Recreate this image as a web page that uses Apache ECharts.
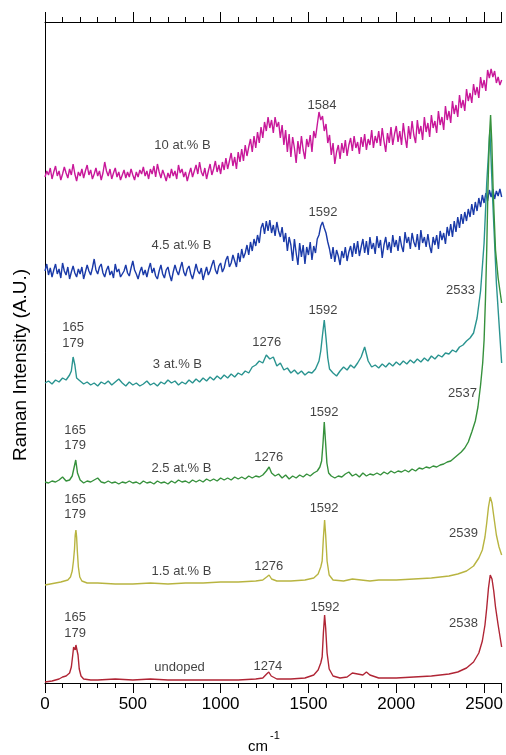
<!DOCTYPE html>
<html><head><meta charset="utf-8">
<script src="https://cdn.jsdelivr.net/npm/echarts@6/dist/echarts.min.js"></script>
<style>html,body{margin:0;padding:0;background:#fff}#c{width:506px;height:755px}</style>
</head><body><div id="c"></div>
<script>
// x tick labels
const xTicks = [0, 500, 1000, 1500, 2000, 2500];
const seriesNames = ['10 at.% B', '4.5 at.% B', '3 at.% B', '2.5 at.% B', '1.5 at.% B', 'undoped'];
const seriesColors = ['#c8189a', '#1a3aa8', '#2a9490', '#36913c', '#b8b440', '#b02535'];

// Spectra: [wavenumber cm-1, stacked intensity (a.u.)]
const b10 = [[0,506],[10,512],[20,508],[30,515],[40,504],[50,511],[60,517],[70,507],[80,512],[90,503],[100,509],[110,516],[120,510],[130,505],[140,514],[150,508],[160,519],[170,509],[180,502],[190,511],[200,507],[210,514],[220,505],[230,512],[240,518],[250,508],[260,513],[270,504],[280,509],[290,515],[300,507],[310,512],[320,503],[330,510],[340,521],[350,512],[360,507],[370,514],[380,504],[390,510],[400,515],[410,506],[420,511],[430,503],[440,508],[450,513],[460,505],[470,511],[480,506],[490,514],[500,508],[510,503],[520,511],[530,506],[540,513],[550,509],[560,516],[570,507],[580,512],[590,504],[600,514],[610,509],[620,517],[630,506],[640,519],[650,511],[660,505],[670,513],[680,508],[690,502],[700,510],[710,505],[720,514],[730,507],[740,512],[750,504],[760,518],[770,510],[780,514],[790,506],[800,511],[810,502],[820,509],[830,515],[840,506],[850,512],[860,518],[870,509],[880,521],[890,511],[900,507],[910,515],[920,504],[930,512],[940,519],[950,508],[960,514],[970,522],[980,511],[990,518],[1000,509],[1010,521],[1020,513],[1030,525],[1040,514],[1050,522],[1060,530],[1070,517],[1080,526],[1090,514],[1100,531],[1110,521],[1120,534],[1130,522],[1140,538],[1150,527],[1160,536],[1170,544],[1180,531],[1190,547],[1200,535],[1210,551],[1220,540],[1230,556],[1240,545],[1250,561],[1260,552],[1270,566],[1280,555],[1290,563],[1300,550],[1310,566],[1320,556],[1330,561],[1340,545],[1350,558],[1360,538],[1370,553],[1380,531],[1390,549],[1400,526],[1410,546],[1420,535],[1430,520],[1440,542],[1450,529],[1460,547],[1470,533],[1480,524],[1490,544],[1500,536],[1510,548],[1520,531],[1530,552],[1540,545],[1550,558],[1560,571],[1570,563],[1580,567],[1590,552],[1600,559],[1610,540],[1620,548],[1630,528],[1640,540],[1650,519],[1660,531],[1670,538],[1680,524],[1690,540],[1700,530],[1710,543],[1720,527],[1730,538],[1740,545],[1750,532],[1760,547],[1770,535],[1780,541],[1790,529],[1800,546],[1810,536],[1820,549],[1830,533],[1840,544],[1850,538],[1860,553],[1870,535],[1880,547],[1890,540],[1900,552],[1910,537],[1920,555],[1930,542],[1940,531],[1950,550],[1960,540],[1970,556],[1980,538],[1990,549],[2000,557],[2010,541],[2020,552],[2030,538],[2040,560],[2050,546],[2060,535],[2070,557],[2080,544],[2090,562],[2100,548],[2110,540],[2120,563],[2130,549],[2140,557],[2150,543],[2160,566],[2170,551],[2180,560],[2190,546],[2200,568],[2210,555],[2220,562],[2230,550],[2240,572],[2250,558],[2260,566],[2270,553],[2280,577],[2290,563],[2300,572],[2310,560],[2320,582],[2330,569],[2340,578],[2350,566],[2360,588],[2370,575],[2380,583],[2390,572],[2400,594],[2410,582],[2420,590],[2430,580],[2440,599],[2450,588],[2460,596],[2470,585],[2480,606],[2490,595],[2500,603],[2510,592],[2520,613],[2530,605],[2540,614],[2550,606],[2560,612],[2570,600],[2580,606],[2590,598],[2600,603]];
const b45 = [[0,412],[10,419],[20,408],[30,415],[40,406],[50,413],[60,419],[70,409],[80,414],[90,405],[100,420],[110,412],[120,408],[130,416],[140,404],[150,411],[160,417],[170,410],[180,406],[190,414],[200,409],[210,416],[220,404],[230,411],[240,418],[250,412],[260,408],[270,415],[280,424],[290,413],[300,409],[310,416],[320,419],[330,410],[340,406],[350,413],[360,417],[370,408],[380,412],[390,405],[400,419],[410,411],[420,414],[430,406],[440,404],[450,412],[460,418],[470,410],[480,407],[490,415],[500,422],[510,413],[520,409],[530,404],[540,411],[550,416],[560,408],[570,413],[580,406],[590,414],[600,420],[610,410],[620,415],[630,407],[640,404],[650,412],[660,418],[670,409],[680,405],[690,413],[700,416],[710,408],[720,402],[730,411],[740,418],[750,412],[760,408],[770,415],[780,421],[790,411],[800,407],[810,414],[820,417],[830,409],[840,404],[850,411],[860,419],[870,412],[880,409],[890,415],[900,403],[910,410],[920,416],[930,408],[940,412],[950,418],[960,423],[970,413],[980,409],[990,417],[1000,420],[1010,411],[1020,415],[1030,423],[1040,427],[1050,416],[1060,420],[1070,428],[1080,422],[1090,416],[1100,430],[1110,421],[1120,434],[1130,425],[1140,430],[1150,438],[1160,428],[1170,441],[1180,432],[1190,444],[1200,437],[1210,448],[1220,440],[1230,455],[1240,460],[1250,449],[1260,462],[1270,452],[1280,463],[1290,450],[1300,458],[1310,447],[1320,461],[1330,452],[1340,446],[1350,456],[1360,441],[1370,450],[1380,432],[1390,446],[1400,438],[1410,422],[1420,444],[1430,430],[1440,418],[1450,440],[1460,426],[1470,438],[1480,419],[1490,436],[1500,428],[1510,441],[1520,423],[1530,437],[1540,430],[1550,444],[1560,448],[1570,457],[1580,461],[1590,455],[1600,450],[1610,441],[1620,434],[1630,424],[1640,436],[1650,421],[1660,433],[1670,427],[1680,418],[1690,432],[1700,425],[1710,436],[1720,422],[1730,431],[1740,437],[1750,426],[1760,440],[1770,429],[1780,442],[1790,427],[1800,436],[1810,444],[1820,430],[1830,442],[1840,428],[1850,446],[1860,434],[1870,440],[1880,429],[1890,447],[1900,435],[1910,443],[1920,425],[1930,438],[1940,446],[1950,433],[1960,441],[1970,430],[1980,448],[1990,436],[2000,443],[2010,432],[2020,447],[2030,437],[2040,431],[2050,451],[2060,440],[2070,446],[2080,434],[2090,450],[2100,441],[2110,436],[2120,449],[2130,433],[2140,453],[2150,440],[2160,446],[2170,436],[2180,449],[2190,437],[2200,430],[2210,446],[2220,438],[2230,448],[2240,434],[2250,452],[2260,443],[2270,450],[2280,439],[2290,456],[2300,447],[2310,459],[2320,446],[2330,462],[2340,451],[2350,466],[2360,455],[2370,469],[2380,459],[2390,471],[2400,462],[2410,474],[2420,466],[2430,479],[2440,468],[2450,481],[2460,472],[2470,485],[2480,476],[2490,488],[2500,480],[2510,490],[2520,482],[2530,493],[2540,486],[2550,494],[2560,484],[2570,492],[2580,487],[2590,494],[2600,486]];
const b3 = [[0,300],[20,302],[40,299],[60,303],[80,301],[100,305],[120,303],[140,308],[150,312],[160,326],[170,318],[180,305],[200,302],[220,299],[240,301],[260,298],[280,300],[300,297],[320,301],[340,299],[360,302],[380,298],[400,301],[420,304],[440,300],[460,297],[480,301],[500,298],[520,300],[540,297],[560,299],[580,302],[600,298],[620,300],[640,297],[660,301],[680,299],[700,303],[720,300],[740,302],[760,298],[780,301],[800,299],[820,303],[840,300],[860,304],[880,301],[900,305],[920,302],[940,306],[960,303],[980,307],[1000,304],[1020,308],[1040,305],[1060,309],[1080,306],[1100,310],[1120,308],[1140,312],[1160,310],[1180,316],[1200,318],[1220,322],[1240,320],[1260,328],[1280,324],[1300,326],[1320,317],[1340,320],[1360,313],[1380,315],[1400,310],[1420,313],[1440,309],[1460,312],[1480,308],[1500,311],[1520,310],[1540,314],[1560,322],[1570,332],[1580,348],[1590,363],[1600,345],[1610,325],[1620,314],[1640,310],[1660,307],[1680,312],[1700,316],[1720,313],[1740,318],[1760,315],[1780,320],[1800,326],[1820,336],[1840,322],[1860,316],[1880,318],[1900,315],[1920,319],[1940,316],[1960,320],[1980,317],[2000,321],[2020,318],[2040,322],[2060,319],[2080,323],[2100,320],[2120,324],[2140,321],[2160,325],[2180,322],[2200,327],[2220,324],[2240,328],[2260,326],[2280,330],[2300,329],[2320,333],[2340,331],[2360,336],[2380,338],[2400,342],[2420,345],[2440,350],[2460,365],[2480,392],[2500,440],[2515,500],[2533,553],[2549,483],[2570,400],[2600,320]];
const b25 = [[0,201],[20,200],[40,202],[60,201],[80,203],[100,206],[120,202],[140,203],[155,207],[165,215],[175,223],[185,210],[200,203],[220,200],[240,202],[260,201],[280,203],[300,205],[320,201],[340,200],[360,202],[380,200],[400,201],[420,199],[440,201],[460,200],[480,202],[500,200],[520,201],[540,199],[560,202],[580,200],[600,201],[620,199],[640,202],[660,200],[680,201],[700,199],[720,202],[740,200],[760,203],[780,201],[800,202],[820,200],[840,203],[860,201],[880,203],[900,201],[920,204],[940,202],[960,204],[980,202],[1000,205],[1020,203],[1040,205],[1060,203],[1080,206],[1100,204],[1120,206],[1140,204],[1160,207],[1180,205],[1200,207],[1220,206],[1240,208],[1260,212],[1276,216],[1290,210],[1310,207],[1330,209],[1350,205],[1370,208],[1390,204],[1410,207],[1430,205],[1450,208],[1470,206],[1490,209],[1510,207],[1530,210],[1550,212],[1565,216],[1575,222],[1583,240],[1590,261],[1597,242],[1605,220],[1615,210],[1630,207],[1650,205],[1670,207],[1690,206],[1710,209],[1730,211],[1750,207],[1770,209],[1790,206],[1810,210],[1830,207],[1850,209],[1870,208],[1890,210],[1910,208],[1930,211],[1950,209],[1970,212],[1990,210],[2010,212],[2030,211],[2050,213],[2070,211],[2090,214],[2110,212],[2130,215],[2150,214],[2170,216],[2190,215],[2210,217],[2230,216],[2250,218],[2270,219],[2290,221],[2310,222],[2330,225],[2350,228],[2370,231],[2390,235],[2410,241],[2430,251],[2450,262],[2465,276],[2480,298],[2492,320],[2500,343],[2508,385],[2515,433],[2522,495],[2530,545],[2537,568],[2544,540],[2552,490],[2565,433],[2580,405],[2600,380]];
const b15 = [[0,98],[30,99],[60,100],[90,101],[110,102],[130,103],[145,106],[155,112],[162,122],[168,134],[172,148],[176,153],[180,146],[184,132],[190,116],[198,106],[210,102],[240,100],[300,100],[400,99],[500,99],[600,100],[700,99],[800,100],[900,100],[1000,101],[1100,101],[1200,102],[1240,103],[1262,106],[1276,108],[1290,104],[1320,102],[1400,102],[1480,103],[1530,105],[1555,109],[1570,116],[1578,122],[1585,145],[1592,163],[1598,148],[1606,122],[1618,108],[1640,103],[1700,102],[1750,104],[1800,103],[1850,102],[1900,103],[2000,103],[2100,104],[2200,105],[2300,107],[2350,109],[2400,112],[2440,117],[2470,125],[2490,133],[2505,146],[2515,160],[2525,176],[2535,186],[2545,180],[2555,167],[2570,148],[2585,136],[2600,128]];
const b0 = [[0,1],[40,2],[80,4],[100,6],[120,7],[140,10],[150,16],[158,28],[163,36],[168,38],[172,33],[176,38],[182,37],[188,28],[195,14],[205,7],[220,4],[260,3],[300,3],[400,4],[500,3],[600,4],[700,3],[800,3],[900,3],[1000,3],[1100,3],[1200,4],[1240,5],[1262,9],[1274,11],[1288,7],[1320,4],[1400,4],[1480,5],[1530,8],[1555,13],[1570,20],[1578,26],[1585,50],[1592,68],[1598,55],[1606,30],[1618,14],[1640,7],[1680,5],[1720,6],[1750,10],[1780,9],[1810,8],[1830,11],[1850,8],[1900,5],[2000,5],[2100,6],[2200,7],[2300,9],[2350,11],[2400,15],[2440,21],[2470,30],[2490,42],[2505,58],[2515,75],[2525,95],[2535,108],[2545,104],[2555,92],[2565,76],[2580,58],[2600,36]];

// Annotations: [text, wavenumber, intensity]
const annotations = [
  ['10 at.% B', 783, 538], ['1584', 1577, 578],
  ['4.5 at.% B', 777, 438], ['1592', 1583, 471],
  ['165', 160, 356], ['179', 160, 340], ['3 at.% B', 754, 319], ['1276', 1263, 341], ['1592', 1583, 373], ['2533', 2366, 393],
  ['165', 171, 253], ['179', 171, 238], ['2.5 at.% B', 777, 215], ['1276', 1274, 226], ['1592', 1589, 271], ['2537', 2377, 290],
  ['165', 171, 184], ['179', 171, 169], ['1.5 at.% B', 777, 112], ['1276', 1274, 117], ['1592', 1589, 175], ['2539', 2383, 150],
  ['165', 171, 66], ['179', 171, 50], ['undoped', 766, 16], ['1274', 1269, 17], ['1592', 1594, 76], ['2538', 2383, 60]
];

const spectra = [b10, b45, b3, b25, b15, b0];
const FONT = 'Liberation Sans, Arial, sans-serif';

const chart = echarts.init(document.getElementById('c'), null, {renderer: 'canvas'});
const axisCommon = {
  type: 'value', min: 0, max: 2600, interval: 500,
  axisLine: {show: true, onZero: false, lineStyle: {color: '#000', width: 1}},
  axisTick: {show: true, inside: false, length: 10, lineStyle: {color: '#000', width: 1}},
  minorTick: {show: true, splitNumber: 5, length: 5, lineStyle: {color: '#000', width: 1}},
  splitLine: {show: false}, minorSplitLine: {show: false}
};
const series = spectra.map((d, i) => ({
  name: seriesNames[i], type: 'line', data: d, showSymbol: false, symbol: 'none',
  sampling: null, smooth: false, lineStyle: {color: seriesColors[i], width: 1.4}, itemStyle: {color: seriesColors[i]},
  z: 2 + i, silent: true
}));
series.push({
  type: 'scatter', symbolSize: 1, itemStyle: {color: 'rgba(0,0,0,0)'},
  data: annotations.map(a => ({name: a[0], value: [a[1], a[2]]})),
  label: {show: true, position: 'inside', formatter: '{b}', color: '#111', textBorderWidth: 0, fontSize: 13, fontFamily: FONT},
  z: 20, silent: true
});

chart.setOption({
  animation: false,
  backgroundColor: '#fff',
  grid: {left: 45, right: 4, top: 22, bottom: 72, containLabel: false},
  xAxis: [
    Object.assign({}, axisCommon, {position: 'bottom',
      axisLabel: {show: true, color: '#000', fontSize: 17, fontFamily: FONT, margin: 13, showMaxLabel: false,
        formatter: v => xTicks.indexOf(v) >= 0 ? String(v) : ''}}),
    Object.assign({}, axisCommon, {position: 'top', axisLabel: {show: false}})
  ],
  yAxis: [
    {type: 'value', min: 0, max: 661, position: 'left', axisLine: {show: true, lineStyle: {color: '#000'}}, axisTick: {show: false}, axisLabel: {show: false}, splitLine: {show: false}},
    {type: 'value', min: 0, max: 661, position: 'right', axisLine: {show: true, lineStyle: {color: '#000'}}, axisTick: {show: false}, axisLabel: {show: false}, splitLine: {show: false}}
  ],
  series: series,
  graphic: [
    {type: 'text', x: 21, y: 365, rotation: Math.PI / 2,
      style: {text: 'Raman Intensity (A.U.)', font: '19px ' + FONT, fill: '#000', align: 'center', verticalAlign: 'middle'}},
    {type: 'text', x: 258, y: 747, style: {text: 'cm', font: '15px ' + FONT, fill: '#000', align: 'center', verticalAlign: 'middle'}},
    {type: 'text', x: 275, y: 736, style: {text: '-1', font: '11px ' + FONT, fill: '#000', align: 'center', verticalAlign: 'middle'}}
  ]
});
</script></body></html>
